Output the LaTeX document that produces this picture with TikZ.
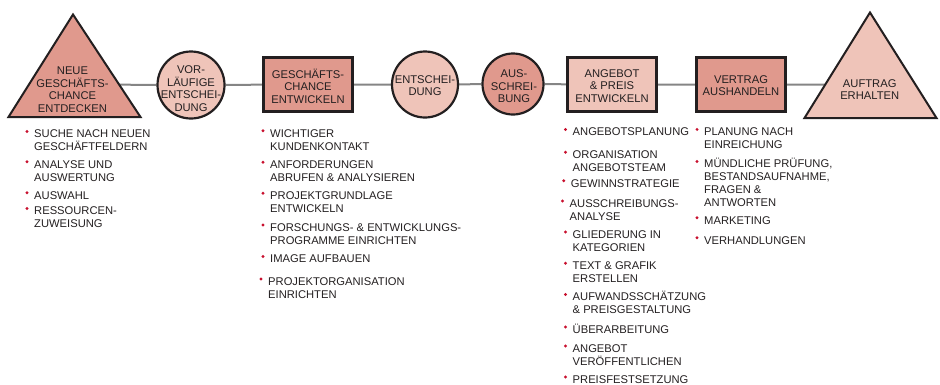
\documentclass[tikz,border=0pt]{standalone}
\usepackage{fontspec}
\setmainfont{Liberation Sans}
\usetikzlibrary{backgrounds}
\definecolor{fillDark}{HTML}{E0998D}
\definecolor{fillLight}{HTML}{EFC4B9}
\definecolor{edge}{HTML}{231F20}
\definecolor{link}{HTML}{858585}
\definecolor{dotred}{HTML}{C8102E}
% one bulleted entry: name, x, baseline y of its first line, text
\newcommand\bitem[4]{%
  \node[item] (#1) at (#2,#3) {\begin{tabular}[t]{@{}l@{}}#4\end{tabular}};
  \fill[dotred] (#2-7,#3-6.3) circle (1.6);}
\begin{document}
\begin{tikzpicture}[x=1pt,y=-1pt,
  stagetext/.style={font=\fontsize{11.2}{12.6}\selectfont, align=center, inner sep=0pt, text=edge},
  item/.style={font=\fontsize{11.2}{13}\selectfont, inner sep=0pt, text=edge, anchor=base west},
  boxstage/.style={draw=edge, line width=2.8pt, rectangle, minimum width=89pt, minimum height=54pt, inner sep=0pt},
  ringstage/.style={draw=edge, line width=2.2pt, circle, inner sep=0pt},
  tristage/.style={draw=edge, line width=2pt, line join=miter},
  link/.style={draw=link, line width=2pt}]
\useasboundingbox (0,0) rectangle (940,384);

% start and end of the process
\filldraw[tristage, fill=fillDark] (73,14.5) -- (140.5,117) -- (8.5,117) -- cycle;
\coordinate (tri1) at (73,84.5);
\node[stagetext] (t1) at (72.5,89.7) {NEUE\\GESCHÄFTS-\\CHANCE\\ENTDECKEN};

\filldraw[tristage, fill=fillLight] (870,12.5) -- (936.5,118) -- (804.5,118) -- cycle;
\coordinate (tri2) at (870,84.5);
\node[stagetext] (t2) at (869.7,89.5) {AUFTRAG\\ERHALTEN};

% decisions and activities
\node[ringstage, fill=fillLight, minimum size=67pt] (c1) at (191,85) {};
\node[stagetext] (c1t) at (191,88.5) {VOR-\\LÄUFIGE\\ENTSCHEI-\\DUNG};

\node[boxstage, fill=fillDark] (b1) at (308,84.5) {};
\node[stagetext] (b1t) at (308,86.3) {GESCHÄFTS-\\CHANCE\\ENTWICKELN};

\node[ringstage, fill=fillLight, minimum size=66pt] (c2) at (425,84.5) {};
\node[stagetext] (c2t) at (425,85.5) {ENTSCHEI-\\DUNG};

\node[ringstage, fill=fillDark, minimum size=61pt] (c3) at (513,84) {};
\node[stagetext] (c3t) at (514,86.5) {AUS-\\SCHREI-\\BUNG};

\node[boxstage, fill=fillLight] (b2) at (612,84.5) {};
\node[stagetext] (b2t) at (612,86) {ANGEBOT\\\& PREIS\\ENTWICKELN};

\node[boxstage, fill=fillDark] (b3) at (741,84.5) {};
\node[stagetext] (b3t) at (741,85.5) {VERTRAG\\AUSHANDELN};

\begin{scope}[on background layer]
  \draw[link] (tri1) -- (c1) -- (b1) -- (c2) -- (c3) -- (b2) -- (b3) -- (tri2);
\end{scope}

% tasks of each phase
\bitem{a1}{34}{137.7}{SUCHE NACH NEUEN\\GESCHÄFTFELDERN}
\bitem{a2}{34}{168}{ANALYSE UND\\AUSWERTUNG}
\bitem{a3}{34}{199}{AUSWAHL}
\bitem{a4}{34}{214.7}{RESSOURCEN-\\ZUWEISUNG}

\bitem{d1}{270}{137}{WICHTIGER\\KUNDENKONTAKT}
\bitem{d2}{270}{168.5}{ANFORDERUNGEN\\ABRUFEN \& ANALYSIEREN}
\bitem{d3}{270}{199.5}{PROJEKTGRUNDLAGE\\ENTWICKELN}
\bitem{d4}{270}{231.2}{FORSCHUNGS- \& ENTWICKLUNGS-\\PROGRAMME EINRICHTEN}
\bitem{d5}{270}{262.8}{IMAGE AUFBAUEN}
\bitem{d6}{268}{285.2}{PROJEKTORGANISATION\\EINRICHTEN}

\bitem{p1}{572.5}{135.7}{ANGEBOTSPLANUNG}
\bitem{p2}{572.5}{158.5}{ORGANISATION\\ANGEBOTSTEAM}
\bitem{p3}{570.7}{187}{GEWINNSTRATEGIE}
\bitem{p4}{569.5}{207.3}{AUSSCHREIBUNGS-\\ANALYSE}
\bitem{p5}{572.5}{238.2}{GLIEDERUNG IN\\KATEGORIEN}
\bitem{p6}{572.5}{269.5}{TEXT \& GRAFIK\\ERSTELLEN}
\bitem{p7}{572.5}{300.7}{AUFWANDSSCHÄTZUNG\\\& PREISGESTALTUNG}
\bitem{p8}{572.5}{333.2}{ÜBERARBEITUNG}
\bitem{p9}{572.5}{352.3}{ANGEBOT\\VERÖFFENTLICHEN}
\bitem{p10}{572.5}{383.2}{PREISFESTSETZUNG}

\bitem{v1}{704}{135.7}{PLANUNG NACH\\EINREICHUNG}
\bitem{v2}{704}{167.8}{MÜNDLICHE PRÜFUNG,\\BESTANDSAUFNAHME,\\FRAGEN \&\\ANTWORTEN}
\bitem{v3}{704}{224}{MARKETING}
\bitem{v4}{704}{244}{VERHANDLUNGEN}
\end{tikzpicture}
\end{document}
